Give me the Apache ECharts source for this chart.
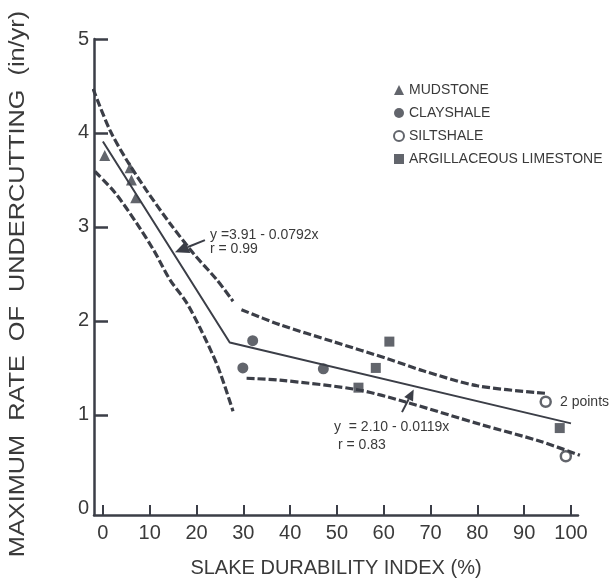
<!DOCTYPE html>
<html>
<head>
<meta charset="utf-8">
<title>Slake durability vs undercutting</title>
<script src="https://cdn.jsdelivr.net/npm/echarts@6/dist/echarts.min.js"></script>
<style>
  html, body { margin: 0; padding: 0; background: #fff; }
  #chart { width: 612px; height: 588px; }
</style>
</head>
<body>
<div id="chart"></div>
<script>
// tick values
const xTicks = [0, 10, 20, 30, 40, 50, 60, 70, 80, 90, 100];
const yLabels = [0, 1, 2, 3, 4, 5];
const yTicks = [1, 2, 3, 4, 5];

// measured points [slake index, rate]
const mudstone = [[0.4, 3.76], [5.8, 3.63], [6.1, 3.50], [7.0, 3.31]];
const clayshale = [[29.9, 1.50], [32.0, 1.79], [47.1, 1.49]];
const siltshale = [[94.6, 1.14], [98.9, 0.56]];
const limestone = [[54.6, 1.29], [58.3, 1.50], [61.2, 1.78], [97.6, 0.86]];

// regression line (two pieces, break near 27)
const fitLine = [[0, 3.91], [27.1, 1.77], [100, 0.91]];

// confidence bands
const bandUpperA = [[-2.1, 4.47], [1.5, 4.03], [5.1, 3.71], [9.3, 3.39], [14.3, 3.04], [19.3, 2.72], [24.3, 2.44], [27.8, 2.21]];
const bandLowerA = [[-1.7, 3.59], [2.5, 3.37], [7.2, 3.04], [11.0, 2.74], [14.3, 2.44], [17.8, 2.20], [20.7, 1.93], [24.5, 1.52], [27.8, 1.04]];
const bandUpperB = [[29.6, 2.12], [37.8, 1.96], [49.2, 1.78], [61.3, 1.59], [68.4, 1.47], [80.0, 1.31], [94.6, 1.23]];
const bandLowerB = [[30.7, 1.39], [37.8, 1.37], [54.2, 1.27], [64.5, 1.14], [80.6, 0.90], [93.4, 0.72], [101.9, 0.57]];

// arrows: [from, to] in data units
const arrowA = [[21.8, 2.86], [15.4, 2.73]];
const arrowB = [[63.9, 1.03], [66.4, 1.27]];

const ink = '#3b3e47';
const textInk = '#3a3a3a';
const font = '"Liberation Sans", Arial, sans-serif';

const chart = echarts.init(document.getElementById('chart'));

function band(data) {
  return {
    type: 'line',
    data: data,
    smooth: 0.3,
    symbol: 'none',
    silent: true,
    z: 3,
    lineStyle: { color: ink, width: 3.2, type: [8, 3] }
  };
}

function dots(name, data, symbol, size, hollow) {
  return {
    name: name,
    type: 'scatter',
    data: data,
    symbol: symbol,
    symbolSize: size,
    z: 5,
    itemStyle: hollow
      ? { color: '#fff', borderColor: ink, borderWidth: 2.5 }
      : { color: ink }
  };
}

chart.setOption({
  backgroundColor: '#fff',
  animation: false,
  textStyle: { fontFamily: font },
  grid: { left: 94, right: 34, top: 39, bottom: 73, containLabel: false },
  legend: {
    orient: 'vertical',
    left: 388,
    top: 78,
    itemWidth: 10,
    itemHeight: 10,
    itemGap: 9,
    textStyle: { color: textInk, fontSize: 14, fontFamily: font },
    data: [
      { name: 'MUDSTONE', icon: 'triangle' },
      { name: 'CLAYSHALE', icon: 'circle' },
      { name: 'SILTSHALE', icon: 'circle' },
      { name: 'ARGILLACEOUS LIMESTONE', icon: 'rect' }
    ]
  },
  xAxis: {
    type: 'value',
    min: -1.9,
    max: 101.5,
    name: 'SLAKE DURABILITY INDEX (%)',
    nameLocation: 'middle',
    nameGap: 43,
    nameTextStyle: { color: textInk, fontSize: 20, fontFamily: font },
    axisLine: { show: true, onZero: false, lineStyle: { color: ink, width: 2.5 } },
    axisTick: { show: true, inside: true, length: 10, customValues: xTicks, lineStyle: { color: ink, width: 2 } },
    axisLabel: { customValues: xTicks, color: textInk, fontSize: 20, margin: 8, fontFamily: font },
    splitLine: { show: false }
  },
  yAxis: {
    type: 'value',
    min: -0.065,
    max: 5,
    axisLine: { show: true, onZero: false, lineStyle: { color: ink, width: 2.5 } },
    axisTick: { show: true, inside: true, length: 14, customValues: yTicks, lineStyle: { color: ink, width: 2.5 } },
    axisLabel: { customValues: yLabels, color: textInk, fontSize: 20, margin: 5, fontFamily: font },
    splitLine: { show: false }
  },
  series: [
    {
      type: 'line',
      data: fitLine,
      symbol: 'none',
      silent: true,
      z: 4,
      lineStyle: { color: ink, width: 2 }
    },
    band(bandUpperA),
    band(bandLowerA),
    band(bandUpperB),
    band(bandLowerB),
    dots('MUDSTONE', mudstone, 'triangle', 11, false),
    dots('CLAYSHALE', clayshale, 'circle', 11, false),
    dots('SILTSHALE', siltshale, 'circle', 10, true),
    dots('ARGILLACEOUS LIMESTONE', limestone, 'rect', 10, false)
  ]
});

// arrows and labels placed after the axes exist
function arrow(pair, head) {
  const a = chart.convertToPixel({ gridIndex: 0 }, pair[0]);
  const b = chart.convertToPixel({ gridIndex: 0 }, pair[1]);
  const ang = Math.atan2(b[1] - a[1], b[0] - a[0]);
  const hl = head, hw = head * 0.45;
  const bx = b[0] - hl * Math.cos(ang), by = b[1] - hl * Math.sin(ang);
  const px = -Math.sin(ang) * hw, py = Math.cos(ang) * hw;
  return [
    { type: 'line', shape: { x1: a[0], y1: a[1], x2: bx, y2: by }, style: { stroke: ink, lineWidth: 2 }, z: 10 },
    { type: 'polygon', shape: { points: [[b[0], b[1]], [bx + px, by + py], [bx - px, by - py]] }, style: { fill: ink }, z: 10 }
  ];
}

function label(text, x, y, size) {
  return {
    type: 'text', x: x, y: y, z: 10,
    style: { text: text, fill: textInk, font: size + 'px ' + font, textVerticalAlign: 'middle' }
  };
}

// y title is wide and spaced out in the original, so stretch it a little
const yTitle = {
  type: 'text',
  x: 18, y: 284,
  rotation: Math.PI / 2,
  scaleX: 1.15,
  z: 10,
  style: {
    text: 'MAXIMUM  RATE  OF  UNDERCUTTING  (in/yr)',
    fill: textInk,
    font: '22px ' + font,
    textAlign: 'center',
    textVerticalAlign: 'middle'
  }
};

chart.setOption({
  graphic: [].concat(
    arrow(arrowA, 14),
    arrow(arrowB, 11),
    [
      yTitle,
      label('y =3.91 - 0.0792x', 210, 235, 14),
      label('r = 0.99', 210, 249, 14),
      label('y  = 2.10 - 0.0119x', 334, 427, 14),
      label('r = 0.83', 338, 445, 14),
      label('2 points', 560, 402, 14)
    ]
  )
});
</script>
</body>
</html>
